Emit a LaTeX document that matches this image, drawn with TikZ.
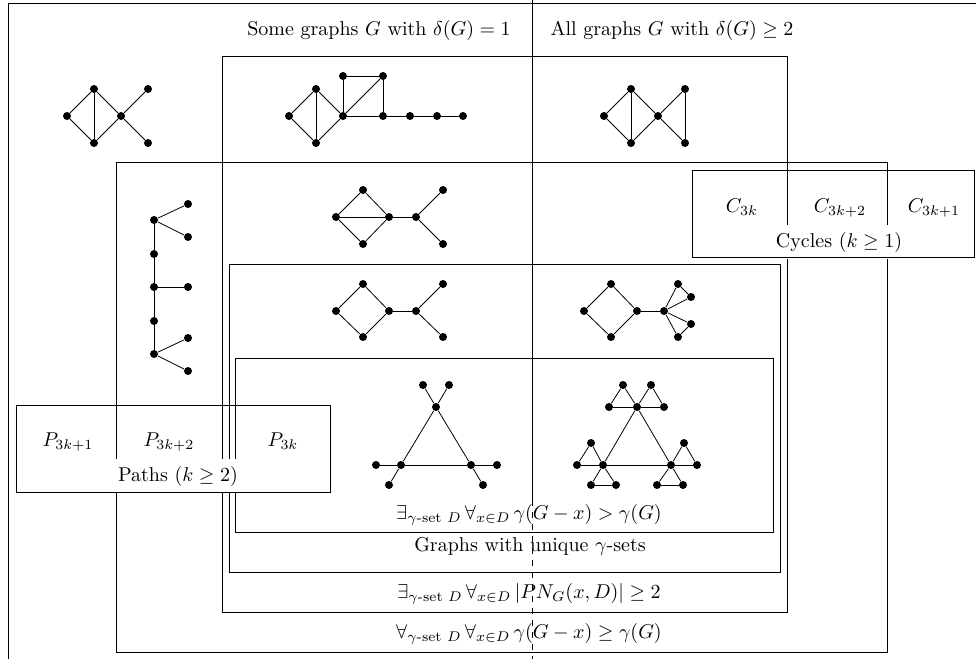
\documentclass[tikz,border=0pt]{standalone}
\usepackage{amsmath,amsfonts,amssymb}

\begin{document}
\begin{tikzpicture}[x=0.5pt,y=-0.5pt,
  vx/.style={circle,fill=black,inner sep=0pt,minimum size=4pt},
  txt/.style={anchor=base},
  lbl/.style={fill=white,inner sep=3.33pt,anchor=base}]
\useasboundingbox (0,0) rectangle (976,659);
\draw (976,3)--(8,3)--(8,659);
\draw (532,0)--(532,500);
\draw [dashed] (532,500)--(532,659);
\draw (222,56) rectangle (787,612);
\draw (116,162) rectangle (887,652);
\draw (229,264) rectangle (780,572);
\draw (235,358) rectangle (773,532);
\node[txt] (hdl) at (379,35) {Some graphs $G$ with $\delta(G)=1$};
\node[txt] (hdr) at (672,35) {All graphs $G$ with $\delta(G)\geq 2$};
\node[txt] (crit) at (529,519) {$\exists_{\gamma\text{-set }D}\,\forall_{x\in D}\,\gamma(G-x)>\gamma(G)$};
\node[txt] (uniq) at (530,551) {Graphs with unique $\gamma$-sets};
\node[txt] (pn) at (529,598) {$\exists_{\gamma\text{-set }D}\,\forall_{x\in D}\,|PN_G(x,D)|\geq 2$};
\node[txt] (all) at (529,638) {$\forall_{\gamma\text{-set }D}\,\forall_{x\in D}\,\gamma(G-x)\geq\gamma(G)$};
\node[txt] (c0) at (742,212) {$C_{3k}$};
\node[txt] (c2) at (840,212) {$C_{3k+2}$};
\node[txt] (c1) at (934,212) {$C_{3k+1}$};
\node[lbl] (cyc) at (839,247) {Cycles ($k\geq 1$)};
\draw (692,170) rectangle (974,257);
\node[txt] (p1) at (68,446) {$P_{3k+1}$};
\node[txt] (p2) at (169,446) {$P_{3k+2}$};
\node[txt] (p0) at (283,446) {$P_{3k}$};
\node[lbl] (pth) at (178,481) {Paths ($k\geq 2$)};
\draw (16,405) rectangle (330,492);
\foreach \n/\x/\y in {a1/67/116,a2/94/89,a3/94/143,a4/121/116,a5/148/89,a6/148/143,
  b1/289/116,b2/316/89,b3/316/143,b4/343/116,b5/343/76,b6/383/76,b7/383/116,b8/410/116,b9/437/116,b10/463/116,
  c1/604/116,c2/631/89,c3/631/143,c4/658/116,c5/685/89,c6/685/143,
  d1/154/220,d2/188/204,d3/188/237,d4/154/254,d5/154/287,d6/188/287,d7/154/321,d8/154/354,d9/188/338,d10/188/371,
  e1/336/217,e2/363/190,e3/363/244,e4/389/217,e5/416/217,e6/443/190,e7/443/244,
  f1/336/311,f2/363/284,f3/363/337,f4/389/311,f5/416/311,f6/443/284,f7/443/337,
  g1/584/311,g2/611/284,g3/611/337,g4/637/311,g5/664/311,g6/678/284,g7/691/297,g8/691/324,g9/678/337,
  h1/436/407,h2/401/465,h3/471/465,h4/423/385,h5/449/385,h6/376/465,h7/389/485,h8/497/465,h9/483/485,
  i1/637/407,i2/603/465,i3/671/465,i4/623/385,i5/609/407,i6/651/385,i7/664/407,i8/577/465,
  i9/591/443,i10/591/485,i11/616/485,i12/684/443,i13/697/465,i14/657/485,i15/683/485}
  \node[vx] (\n) at (\x,\y) {};
\foreach \a/\b in {a1/a2,a1/a3,a2/a3,a2/a4,a3/a4,a4/a5,a4/a6,
  b1/b2,b1/b3,b2/b3,b2/b4,b3/b4,b4/b5,b5/b6,b6/b7,b4/b6,b4/b7,b7/b8,b8/b9,b9/b10,
  c1/c2,c1/c3,c2/c3,c2/c4,c3/c4,c4/c5,c4/c6,c5/c6,
  d1/d2,d1/d3,d1/d4,d4/d5,d5/d6,d5/d7,d7/d8,d8/d9,d8/d10,
  e1/e2,e1/e3,e2/e4,e3/e4,e1/e4,e4/e5,e5/e6,e5/e7,
  f1/f2,f1/f3,f2/f4,f3/f4,f4/f5,f5/f6,f5/f7,
  g1/g2,g1/g3,g2/g4,g3/g4,g4/g5,g5/g6,g5/g7,g6/g7,g5/g8,g5/g9,g8/g9,
  h1/h2,h2/h3,h3/h1,h1/h4,h1/h5,h2/h6,h2/h7,h3/h8,h3/h9,
  i1/i2,i2/i3,i3/i1,i1/i4,i4/i5,i5/i1,i1/i6,i6/i7,i7/i1,i2/i8,i8/i9,i9/i2,
  i2/i10,i10/i11,i11/i2,i3/i12,i12/i13,i13/i3,i3/i14,i14/i15,i15/i3}
  \draw (\a)--(\b);
\end{tikzpicture}
\end{document}
